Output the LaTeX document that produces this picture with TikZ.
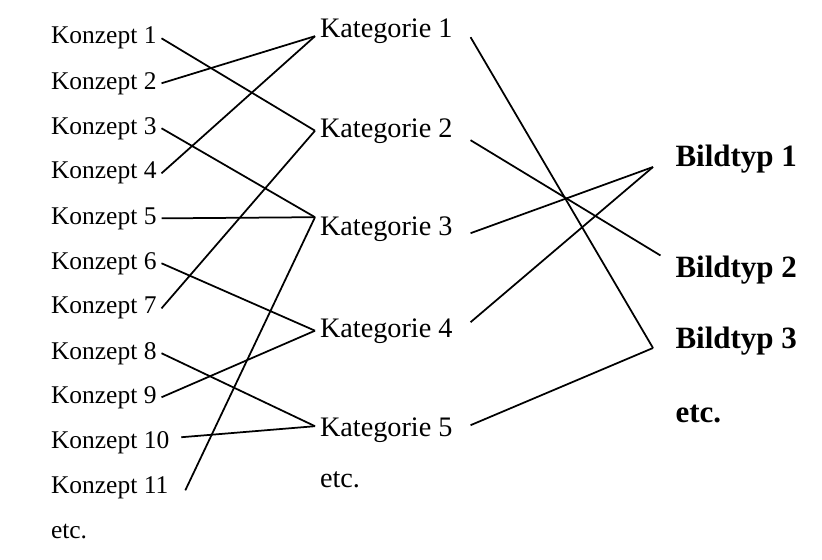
\documentclass[tikz,border=0pt]{standalone}
\usepackage{fontspec}
\setmainfont{Liberation Serif}
\usepackage{tikz}
\usetikzlibrary{calc}

\begin{document}
\begin{tikzpicture}[x=0.4pt,y=-0.4pt,
	konzept/.style={anchor=base west, inner xsep=2pt, inner ysep=0pt, outer sep=0pt, font=\fontsize{10.2}{12}\selectfont},
	kategorie/.style={anchor=base west, inner xsep=2pt, inner ysep=0pt, outer sep=0pt, font=\fontsize{11.3}{13}\selectfont},
	bildtyp/.style={anchor=base west, inner xsep=0pt, inner ysep=0pt, outer xsep=9pt, outer ysep=0pt, font=\fontsize{12.4}{15}\selectfont\bfseries},
	verbindung/.style={line width=0.7pt}]
	\useasboundingbox (0,0) rectangle (822,560);
	% Konzepte
	\node[konzept] (k1) at (46,44) {Konzept 1};
	\node[konzept] (k2) at (46,89) {Konzept 2};
	\node[konzept] (k3) at (46,134) {Konzept 3};
	\node[konzept] (k4) at (46,179) {Konzept 4};
	\node[konzept] (k5) at (46,224) {Konzept 5};
	\node[konzept] (k6) at (46,269) {Konzept 6};
	\node[konzept] (k7) at (46,314) {Konzept 7};
	\node[konzept] (k8) at (46,359) {Konzept 8};
	\node[konzept] (k9) at (46,403) {Konzept 9};
	\node[konzept] (k10) at (46,448) {Konzept 10};
	\node[konzept] (k11) at (46,493) {Konzept 11};
	\node[konzept] (ketc) at (46,538) {etc.};
	% Kategorien
	\node[kategorie] (kat1) at (315,37) {Kategorie 1};
	\node[kategorie] (kat2) at (315,137) {Kategorie 2};
	\node[kategorie] (kat3) at (315,235) {Kategorie 3};
	\node[kategorie] (kat4) at (315,337) {Kategorie 4};
	\node[kategorie] (kat5) at (315,436) {Kategorie 5};
	\node[kategorie] (katetc) at (315,487) {etc.};
	% Bildtypen
	\node[bildtyp] (b1) at (653,167) {Bildtyp 1};
	\node[bildtyp] (b2) at (653,277) {Bildtyp 2};
	\node[bildtyp] (b3) at (653,348) {Bildtyp 3};
	\node[bildtyp] (betc) at (653,423) {etc.};
	% Anschlusspunkte
	\coordinate (k10r) at ([xshift=2.8pt,yshift=2pt]k10.east);
	\coordinate (k11r) at ([xshift=4.8pt,yshift=-1.2pt]k11.east);
	\coordinate (kat1l) at ([yshift=-2.2pt]kat1.west);
	\coordinate (kat3l) at ([yshift=4.6pt]kat3.west);
	\coordinate (kat5l) at ([yshift=1.4pt]kat5.west);
	\coordinate (kat1r) at ([xshift=5.2pt,yshift=-2.6pt]kat1.east);
	\coordinate (kat2r) at ([xshift=5.2pt,yshift=-3.8pt]kat2.east);
	\coordinate (kat3r) at ([xshift=5.2pt,yshift=-1.8pt]kat3.east);
	\coordinate (kat4r) at ([xshift=5.2pt,yshift=3.4pt]kat4.east);
	\coordinate (kat5r) at ([xshift=5.2pt,yshift=1.8pt]kat5.east);
	\coordinate (b2l) at ([xshift=3pt]b2.north west);
	% Konzept -> Kategorie
	\draw[verbindung] (k1.east) -- (kat2.west);
	\draw[verbindung] (k2.east) -- (kat1l);
	\draw[verbindung] (k3.east) -- (kat3l);
	\draw[verbindung] (k4.east) -- (kat1l);
	\draw[verbindung] (k5.east) -- (kat3l);
	\draw[verbindung] (k6.east) -- (kat4.west);
	\draw[verbindung] (k7.east) -- (kat2.west);
	\draw[verbindung] (k8.east) -- (kat5l);
	\draw[verbindung] (k9.east) -- (kat4.west);
	\draw[verbindung] (k10r) -- (kat5l);
	\draw[verbindung] (k11r) -- (kat3l);
	% Kategorie -> Bildtyp
	\draw[verbindung] (kat1r) -- (b3.base west);
	\draw[verbindung] (kat2r) -- (b2l);
	\draw[verbindung] (kat3r) -- (b1.base west);
	\draw[verbindung] (kat4r) -- (b1.base west);
	\draw[verbindung] (kat5r) -- (b3.base west);
\end{tikzpicture}
\end{document}
